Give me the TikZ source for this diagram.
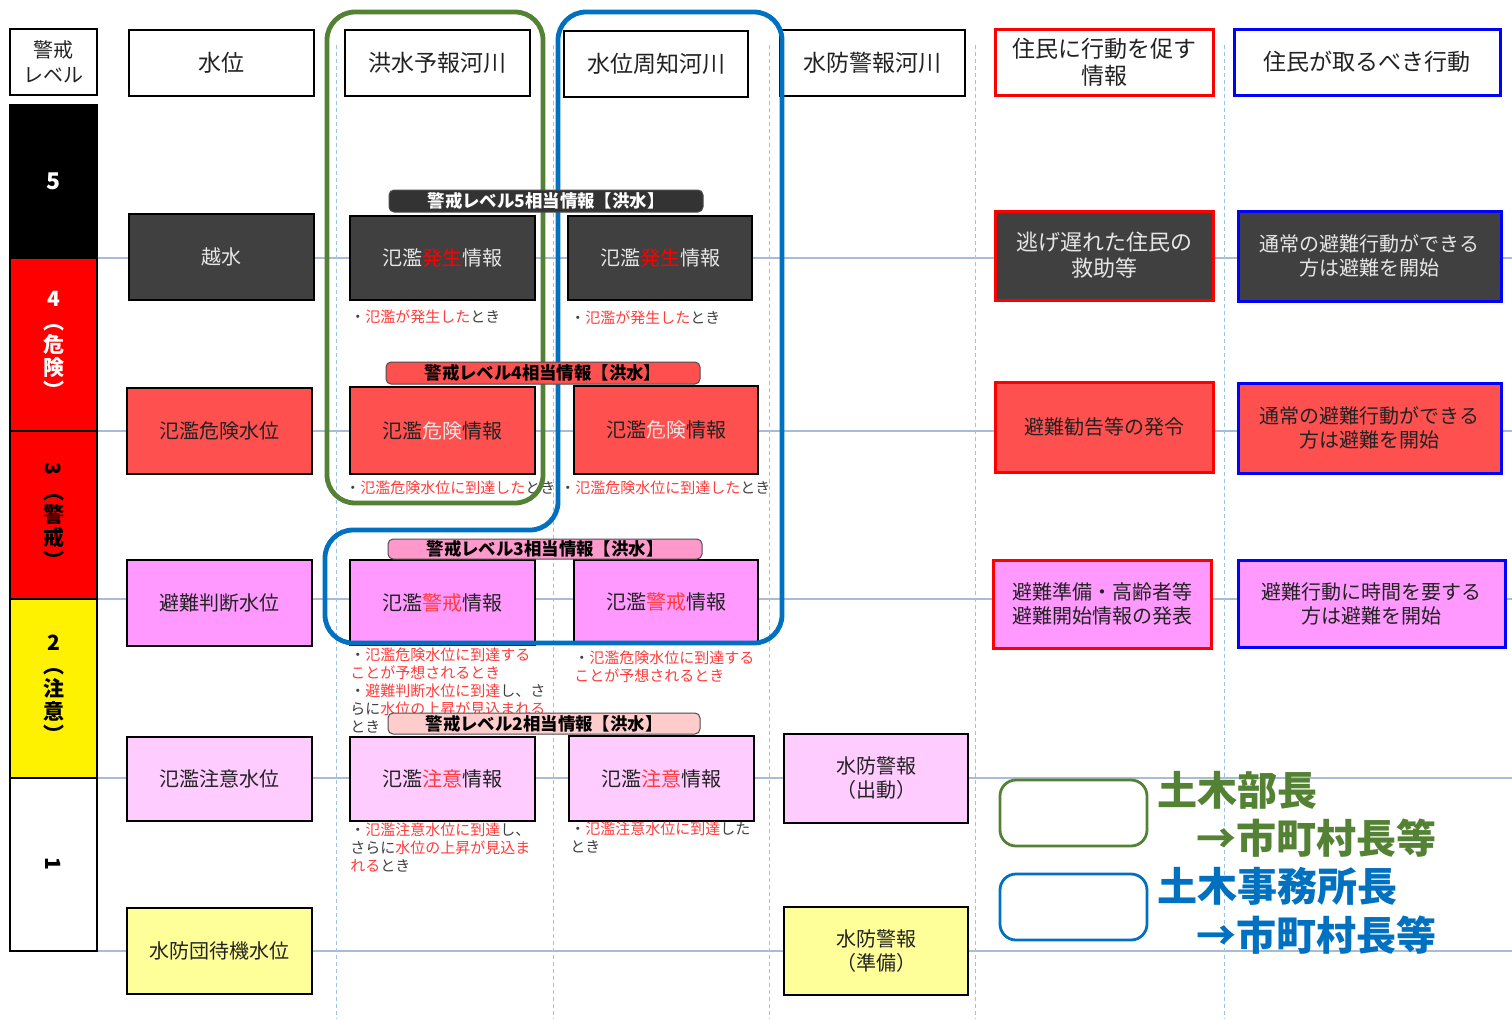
\documentclass[tikz,border=0pt]{standalone}
\usepackage{fontspec}
\setmainfont{Noto Sans CJK JP}
\definecolor{dk}{HTML}{404040}
\definecolor{rd}{HTML}{FF5050}
\definecolor{pk}{HTML}{FF99FF}
\definecolor{lp}{HTML}{FFCCFF}
\definecolor{ly}{HTML}{FFFF99}
\definecolor{gr}{HTML}{548235}
\definecolor{bl}{HTML}{0070C0}
\definecolor{txr}{HTML}{FF3B3B}
\definecolor{txg}{HTML}{404040}
\definecolor{hl}{HTML}{A9BCD6}
\definecolor{dl}{HTML}{9DC3E6}
\definecolor{bnf}{HTML}{333333}
\definecolor{bnc}{HTML}{FF99CC}
\definecolor{bnd}{HTML}{FFCCCC}
\definecolor{ltx}{HTML}{E6E6E6}
\definecolor{dtx}{HTML}{222222}
\newcommand\fs[2]{\fontsize{#1}{#2}\selectfont}
\newcommand\Rd[1]{\textcolor{txr}{#1}}
\newcommand\Bx[7]{\node[#2, minimum width={(#5-#3)*0.5pt}, minimum height={(#6-#4)*0.5pt}] (#1) at ({(#3+#5)/2},{(#4+#6)/2}) {#7};}
\begin{document}
\begin{tikzpicture}[x=0.5pt,y=-0.5pt,
  hdr/.style={draw=black, line width=1.2pt, fill=white, align=center, inner sep=0pt, text=dtx, font=\fs{11.5pt}{13.5pt}},
  box/.style={draw=black, line width=1.3pt, align=center, inner sep=0pt, font=\fs{10pt}{12pt}},
  darkbox/.style={box, fill=dk, text=ltx},
  redbox/.style={box, fill=rd, text=dtx},
  pinkbox/.style={box, fill=pk, text=dtx},
  lpbox/.style={box, fill=lp, text=dtx},
  ylbox/.style={box, fill=ly, text=dtx},
  bar/.style={draw=black, line width=1pt, align=center, inner sep=0pt, font=\bfseries\fs{10.5pt}{11.5pt}},
  note/.style={font=\fs{7.5pt}{9pt}, align=left, inner sep=0pt, anchor=north west, text=txg},
  banner/.style={draw=black!70, line width=0.5pt, rounded corners=2.5pt, inner sep=0pt, font=\bfseries\fs{8.7pt}{10pt}},
  hline/.style={hl, line width=0.6pt},
  vline/.style={dl, line width=0.5pt, dash pattern=on 2pt off 1.5pt},
  outline/.style={line width=2.4pt, rounded corners=14pt}
]
\useasboundingbox (0,0) rectangle (1512,1019);
\fill[white] (0,0) rectangle (1512,1019);
% grid lines
\foreach \yy/\nm in {258/h1,431/h2,599/h3,778/h4,951/h5} {
  \coordinate (\nm a) at (97,\yy); \coordinate (\nm b) at (1512,\yy);
  \draw[hline] (\nm a) -- (\nm b);
}
\foreach \xx/\nm in {336/v1,553/v2,769/v3,975/v4,1224/v5} {
  \coordinate (\nm a) at (\xx,45); \coordinate (\nm b) at (\xx,1019);
  \draw[vline] (\nm a) -- (\nm b);
}
% level column
\Bx{hlev}{hdr, font=\fs{10pt}{12.5pt}}{10}{29}{97}{95}{警戒\\レベル}
\Bx{L5}{bar, fill=black, text=white}{10}{105}{97}{258}{\fs{11.5pt}{12pt}5}
\Bx{L4}{bar, fill=red, text=white}{10}{258}{97}{431}{4\\︵\\危\\険\\︶}
\Bx{L3}{bar, fill=red, text=black}{10}{431}{97}{599}{\rotatebox[origin=c]{-90}{3}\\︵\\警\\戒\\︶}
\Bx{L2}{bar, fill=yellow, text=black}{10}{599}{97}{778}{2\\︵\\注\\意\\︶}
\Bx{L1}{bar, fill=white, text=black}{10}{778}{97}{951}{\rotatebox[origin=c]{-90}{1}}
% headers
\Bx{hwl}{hdr}{129}{30}{314}{96}{水位}
\Bx{hfr}{hdr}{345}{30}{530}{96}{洪水予報河川}
\Bx{hwr}{hdr}{564}{31}{748}{97}{水位周知河川}
\Bx{hfp}{hdr}{780}{30}{965}{96}{水防警報河川}
\Bx{hinfo}{hdr, draw=red, line width=1.5pt}{995}{29}{1213}{95}{住民に行動を促す\\情報}
\Bx{hact}{hdr, draw=blue, line width=1.5pt}{1234}{29}{1500}{95}{住民が取るべき行動}
% water level column
\Bx{w5}{darkbox}{129}{214}{314}{300}{越水}
\Bx{w4}{redbox}{127}{388}{312}{474}{氾濫危険水位}
\Bx{w3}{pinkbox}{127}{560}{312}{646}{避難判断水位}
\Bx{w2}{lpbox}{127}{737}{312}{821}{氾濫注意水位}
\Bx{w1}{ylbox}{127}{908}{312}{994}{水防団待機水位}
% flood forecast river
\Bx{a5}{darkbox}{350}{216}{535}{300}{氾濫\textcolor{red}{発生}情報}
\Bx{a4}{redbox}{350}{387}{535}{474}{氾濫\textcolor{ltx}{危険}情報}
\Bx{a3}{pinkbox}{350}{560}{535}{645}{氾濫\textcolor{txr}{警戒}情報}
\Bx{a2}{lpbox}{350}{737}{535}{821}{氾濫\textcolor{txr}{注意}情報}
% water level notification river
\Bx{b5}{darkbox}{568}{216}{752}{300}{氾濫\textcolor{red}{発生}情報}
\Bx{b4}{redbox}{574}{386}{758}{474}{氾濫\textcolor{ltx}{危険}情報}
\Bx{b3}{pinkbox}{574}{560}{758}{643}{氾濫\textcolor{txr}{警戒}情報}
\Bx{b2}{lpbox}{569}{736}{754}{821}{氾濫\textcolor{txr}{注意}情報}
% flood prevention warning river
\Bx{c2}{lpbox}{784}{734}{968}{823}{水防警報\\（出動）}
\Bx{c1}{ylbox}{784}{907}{968}{995}{水防警報\\（準備）}
% information to residents
\Bx{d5}{darkbox, draw=red, line width=1.5pt, font=\fs{11pt}{13pt}}{995}{211}{1213}{300}{逃げ遅れた住民の\\救助等}
\Bx{d4}{redbox, draw=red, line width=1.5pt}{995}{382}{1213}{472}{避難勧告等の発令}
\Bx{d3}{pinkbox, draw=red, line width=1.5pt}{993}{560}{1211}{648}{避難準備・高齢者等\\避難開始情報の発表}
% actions
\Bx{e5}{darkbox, draw=blue, line width=1.5pt}{1238}{211}{1501}{301}{通常の避難行動ができる\\方は避難を開始}
\Bx{e4}{redbox, draw=blue, line width=1.5pt}{1238}{383}{1501}{473}{通常の避難行動ができる\\方は避難を開始}
\Bx{e3}{pinkbox, draw=blue, line width=1.5pt}{1238}{560}{1505}{647}{避難行動に時間を要する\\方は避難を開始}
% notes
\node[note] (n a5) at (350,309) {・\Rd{氾濫が発生した}とき};
\node[note] (n b5) at (570,310) {・\Rd{氾濫が発生した}とき};
\node[note] (n a4) at (345,480) {・\Rd{氾濫危険水位に到達した}とき};
\node[note] (n b4) at (560,480) {・\Rd{氾濫危険水位に到達した}とき};
\node[note] (n a3) at (350,647) {・\Rd{氾濫危険水位に到達する}\\\Rd{ことが予想されるとき}\\・\Rd{避難判断水位に到達}し、さ\\らに\Rd{水位の上昇が見込まれる}\\とき};
\node[note] (n b3) at (574,650) {・\Rd{氾濫危険水位に到達する}\\\Rd{ことが予想されるとき}};
\node[note] (n a2) at (350,822) {・\Rd{氾濫注意水位に到達}し、\\さらに\Rd{水位の上昇が見込ま}\\\Rd{れる}とき};
\node[note] (n b2) at (570,821) {・\Rd{氾濫注意水位に到達}した\\とき};
% outlines
\draw[outline, gr] (435,503) -- (327,503) -- (327,12) -- (543,12) -- (543,503) -- cycle;
\draw[outline, bl] (550,643) -- (325,643) -- (325,530) -- (558,530) -- (558,12) -- (782,12) -- (782,643) -- cycle;
% banners
\Bx{k5}{banner, fill=bnf, text=white}{389}{190}{703}{212}{警戒レベル5相当情報【洪水】}
\Bx{k4}{banner, fill=rd, text=black}{386}{362}{700}{384}{警戒レベル4相当情報【洪水】}
\Bx{k3}{banner, fill=bnc, text=black}{388}{539}{702}{559}{警戒レベル3相当情報【洪水】}
\Bx{k2}{banner, fill=bnd, text=black}{388}{713}{700}{734}{警戒レベル2相当情報【洪水】}
% legend
\draw[gr, line width=1.4pt, rounded corners=8pt] (1000,780) rectangle (1147,846);
\draw[bl, line width=1.4pt, rounded corners=8pt] (1000,874) rectangle (1147,940);
\node[anchor=west, inner sep=0pt, text=gr, font=\bfseries\fs{20pt}{20pt}] (g1) at (1157,790) {土木部長};
\node[anchor=east, inner sep=0pt, text=gr, font=\bfseries\fs{20pt}{20pt}] (g2) at (1437,838) {→市町村長等};
\node[anchor=west, inner sep=0pt, text=bl, font=\bfseries\fs{20pt}{20pt}] (g3) at (1157,886) {土木事務所長};
\node[anchor=east, inner sep=0pt, text=bl, font=\bfseries\fs{20pt}{20pt}] (g4) at (1437,935) {→市町村長等};
\end{tikzpicture}
\end{document}
